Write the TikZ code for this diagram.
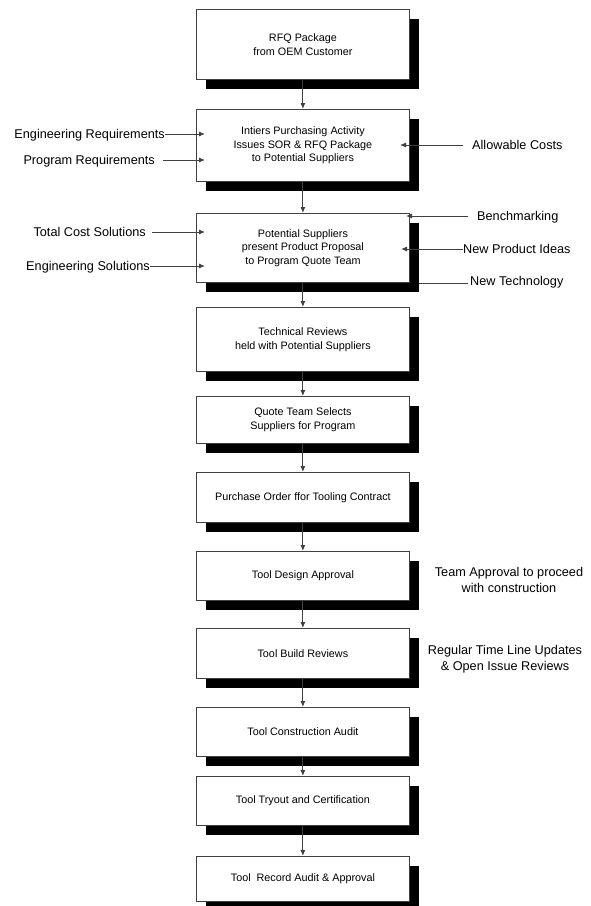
\documentclass[tikz,border=0pt]{standalone}
\usepackage{fontspec}
\setmainfont{Liberation Sans}[Ligatures=CommonOff]
\usetikzlibrary{arrows.meta,shadows}
\begin{document}
\begin{tikzpicture}[x=1pt,y=-1pt,
  stepbox/.style={draw=black!75, line width=0.8pt, fill=white, inner sep=0pt,
    minimum width=213pt, anchor=north west, align=center,
    font=\fontsize{10.8}{13.6}\selectfont,
    drop shadow={shadow xshift=10pt, shadow yshift=-10pt, fill=black, opacity=1}},
  sidelabel/.style={inner sep=0pt, font=\fontsize{12.7}{15.5}\selectfont, text height=9.2pt, text depth=0pt},
  notelabel/.style={inner sep=0pt, font=\fontsize{12.7}{15.5}\selectfont, align=center},
  flow/.style={draw=black!75, line width=0.9pt, -{Latex[length=6pt,width=5pt]}},
  feed/.style={draw=black!75, line width=0.9pt, -{Latex[length=6pt,width=5pt]}},
  plainline/.style={draw=black!75, line width=0.9pt},
]
\fill[white] (0,0) rectangle (590,906);
\useasboundingbox (0,0) rectangle (590,906);

% main process boxes
\node[stepbox, minimum height=70pt] (b1) at (196,9) {RFQ Package\\from OEM Customer};
\node[stepbox, minimum height=72pt] (b2) at (196,109) {Intiers Purchasing Activity\\Issues SOR \& RFQ Package\\to Potential Suppliers};
\node[stepbox, minimum height=69pt] (b3) at (196,213) {Potential Suppliers\\present Product Proposal\\to Program Quote Team};
\node[stepbox, minimum height=64pt] (b4) at (196,307) {Technical Reviews\\held with Potential Suppliers};
\node[stepbox, minimum height=47pt] (b5) at (196,396) {Quote Team Selects\\Suppliers for Program};
\node[stepbox, minimum height=50pt] (b6) at (196,472) {Purchase Order ffor Tooling Contract};
\node[stepbox, minimum height=49pt] (b7) at (196,551) {Tool Design Approval};
\node[stepbox, minimum height=50pt] (b8) at (196,628) {Tool Build Reviews};
\node[stepbox, minimum height=49pt] (b9) at (196,707) {Tool Construction Audit};
\node[stepbox, minimum height=49pt] (b10) at (196,776) {Tool Tryout and Certification};
\node[stepbox, minimum height=45pt] (b11) at (196,856) {Tool\ \ Record Audit \& Approval};

% flow connectors
\draw[flow] (b1) -- (b2);
\draw[flow] (b2) -- (b3);
\draw[flow] (b3) -- (b4);
\draw[flow] (b4) -- (b5);
\draw[flow] (b5) -- (b6);
\draw[flow] (b6) -- (b7);
\draw[flow] (b7) -- (b8);
\draw[flow] (b8) -- (b9);
\draw[flow] (b9) -- (b10);
\draw[flow] (b10) -- (b11);

% inputs to box 2
\node[sidelabel, anchor=east] (ler) at (165,134) {Engineering Requirements};
\coordinate (ter) at (205,134);
\draw[feed] (ler.east) -- (ter);
\node[sidelabel, anchor=east] (lpr) at (155,160) {Program Requirements};
\coordinate (tpr) at (205,160);
\draw[feed] ([xshift=8pt]lpr.east) -- (tpr);
\node[sidelabel, anchor=west] (lac) at (472,145) {Allowable Costs};
\coordinate (tac) at (400,145);
\draw[feed] ([xshift=-9pt]lac.west) -- (tac);

% inputs to box 3
\node[sidelabel, anchor=east] (ltc) at (146,232) {Total Cost Solutions};
\coordinate (ttc) at (205,232);
\draw[feed] ([xshift=6pt]ltc.east) -- (ttc);
\node[sidelabel, anchor=east] (les) at (150,266) {Engineering Solutions};
\coordinate (tes) at (205,266);
\draw[feed] (les.east) -- (tes);
\node[sidelabel, anchor=west] (lbm) at (477,216) {Benchmarking};
\coordinate (tbm) at (406,216);
\draw[feed] ([xshift=-9pt]lbm.west) -- (tbm);
\node[sidelabel, anchor=west] (lnp) at (463,249) {New Product Ideas};
\coordinate (tnp) at (401,249);
\draw[feed] (lnp.west) -- (tnp);
\node[sidelabel, anchor=west] (lnt) at (470,281) {New Technology};
\coordinate (cnt) at (419,283);
\draw[plainline] (cnt) -- ([xshift=-2pt]lnt.west |- cnt);

% notes
\node[notelabel] (lta) at (509,580) {Team Approval to proceed\\with construction};
\node[notelabel] (lrt) at (505,659) {Regular Time Line Updates\\\& Open Issue Reviews};
\end{tikzpicture}
\end{document}
